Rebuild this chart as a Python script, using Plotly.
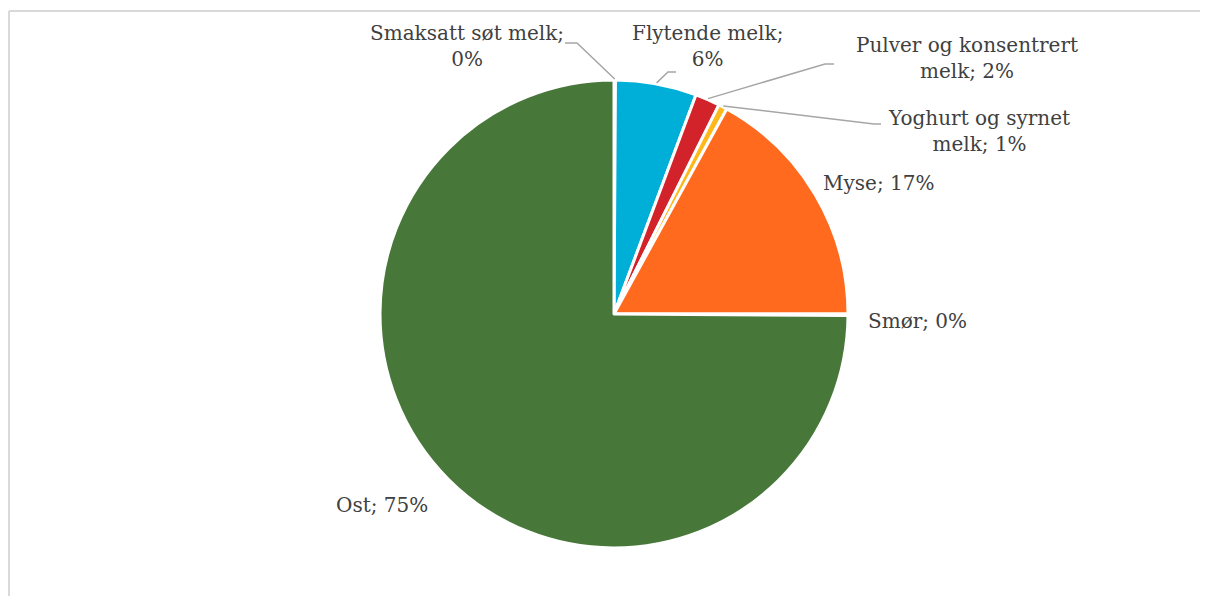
import numpy as np
import plotly.graph_objects as go

labels = ["Smaksatt søt melk", "Flytende melk", "Pulver og konsentrert melk",
          "Yoghurt og syrnet melk", "Myse", "Smør", "Ost"]
values = [0.1, 5.6, 1.7, 0.6, 17.0, 0.1, 74.9]
colors = ["#A5A5A5", "#00AFD7", "#D2232A", "#FFB81C", "#FF6A1F", "#7F7F7F", "#48773A"]

# page body has an 8px margin, so the figure is drawn 8px in from the corner;
# keep it a little short of the window so no scrollbar appears
OFF = 8
W, H = 1208 - 2 * OFF, 610 - 2 * OFF - 6
cx, cy, r = 614, 314, 234

def px(x, y):
    return (x - OFF) / W, 1 - (y - OFF) / H

fig = go.Figure()
fig.add_trace(go.Pie(
    labels=labels, values=values, sort=False, direction="clockwise", rotation=0,
    marker=dict(colors=colors, line=dict(color="white", width=3)),
    textinfo="none", hoverinfo="label+percent", showlegend=False,
    domain=dict(x=[px(cx - r, 0)[0], px(cx + r, 0)[0]], y=[px(0, cy + r)[1], px(0, cy - r)[1]]),
))

total = sum(values)
pct = [f"{round(v / total * 100)}%" for v in values]
mid = []
acc = 0
for v in values:
    mid.append((acc + v / 2) / total * 2 * np.pi)
    acc += v

# label text, centre position (px), leader elbow and end (px) or None
texts = [
    (f"Smaksatt søt melk;<br>{pct[0]}", (467, 46), [(577, 43), (565, 43)]),
    (f"Flytende melk;<br>{pct[1]}", (707, 46), [(668, 72), (676, 72)]),
    (f"Pulver og konsentrert<br>melk; {pct[2]}", (967, 58), [(825, 64), (834, 64)]),
    (f"Yoghurt og syrnet<br>melk; {pct[3]}", (979, 131), [(874, 124), (881, 124)]),
    (f"Myse; {pct[4]}", (878, 183), None),
    (f"Smør; {pct[5]}", (917, 321), None),
    (f"Ost; {pct[6]}", (382, 505), None),
]

font = dict(family="Georgia, DejaVu Serif, serif", size=20, color="#404040")
for i, (t, pos, leader) in enumerate(texts):
    x, y = px(*pos)
    fig.add_annotation(x=x, y=y, xref="paper", yref="paper", text=t, showarrow=False,
                       xanchor="center", yanchor="middle", align="center", font=font)
    if leader:
        ax = cx + (r + 1) * np.sin(mid[i])
        ay = cy - (r + 1) * np.cos(mid[i])
        pts = [(ax, ay)] + leader
        path = "M " + " L ".join(f"{px(a, b)[0]},{px(a, b)[1]}" for a, b in pts)
        fig.add_shape(type="path", path=path, xref="paper", yref="paper",
                      line=dict(color="#A6A6A6", width=1.5))

# chart border (only top and left edges are inside the window)
x0, y1 = px(9, 11)
fig.add_shape(type="line", xref="paper", yref="paper", x0=x0, y0=y1, x1=1.05, y1=y1,
              line=dict(color="#D9D9D9", width=2))
fig.add_shape(type="line", xref="paper", yref="paper", x0=x0, y0=-0.05, x1=x0, y1=y1,
              line=dict(color="#D9D9D9", width=2))

fig.update_layout(width=W, height=H, margin=dict(l=0, r=0, t=0, b=0),
                  paper_bgcolor="white", plot_bgcolor="white")
fig.write_html("out.html")
